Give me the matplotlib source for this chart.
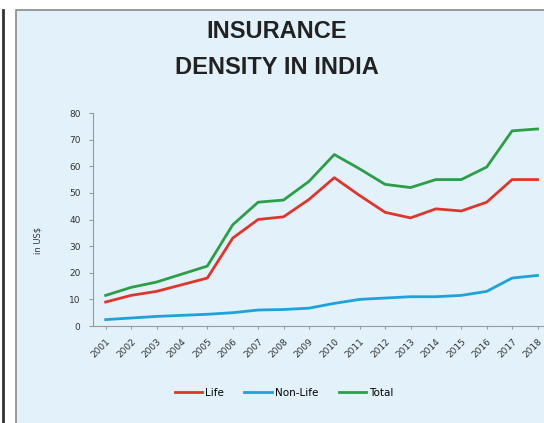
import matplotlib
matplotlib.use("Agg")
import matplotlib.pyplot as plt
from matplotlib.patches import Rectangle
from matplotlib.lines import Line2D

years = list(range(2001, 2019))
life = [9, 11.5, 13, 15.5, 18, 33, 40, 41, 47.5, 55.7, 49, 42.7, 40.6, 44, 43.2, 46.5, 55, 55]
non_life = [2.4, 3, 3.6, 4, 4.4, 5, 6, 6.2, 6.7, 8.5, 10, 10.5, 11, 11, 11.5, 13, 18, 19]
total = [11.5, 14.5, 16.5, 19.5, 22.5, 38, 46.5, 47.3, 54.3, 64.4, 59, 53.2, 52, 55, 55, 59.7, 73.3, 74]

bg = "#e3f2fa"

fig = plt.figure(figsize=(5.44, 4.23), dpi=100)
fig.patch.set_facecolor("white")

# panel frame (drawn behind the axes)
W, H = 544, 423
fig.patches.append(Rectangle((16 / W, -0.05), 1.1, 1 - 10 / H + 0.05,
                             transform=fig.transFigure, facecolor=bg,
                             edgecolor="#8a8a8a", linewidth=1.2, zorder=-2))
fig.lines.append(Line2D([3 / W, 3 / W], [0, 1 - 10 / H],
                        transform=fig.transFigure, color="#333333", lw=2,
                        zorder=-2))

ax = fig.add_axes([93 / W, 1 - 326 / H, (18 * 25.4) / W, (326 - 113) / H])
ax.set_zorder(2)
ax.set_facecolor(bg)

ax.plot(years, life, color="#e0352b", lw=2, label="Life")
ax.plot(years, non_life, color="#1da3d9", lw=2, label="Non-Life")
ax.plot(years, total, color="#2b9e47", lw=2, label="Total")

ax.set_xlim(2000.5, 2018.5)
ax.set_ylim(0, 80)
ax.set_yticks(range(0, 81, 10))
ax.set_xticks(years)
ax.set_xticklabels([str(y) for y in years], rotation=45, ha="right",
                   rotation_mode="anchor", fontsize=6.5, color="#333333")
ax.tick_params(axis="y", labelsize=6.5, colors="#333333", length=3,
               color="#999999", pad=6)
ax.tick_params(axis="x", length=2, color="#999999", pad=6)
for s in ["top", "right"]:
    ax.spines[s].set_visible(False)
for s in ["left", "bottom"]:
    ax.spines[s].set_color("#999999")

fig.text(38 / W, 1 - 240 / H, "in US$", rotation=90, fontsize=6,
         color="#333333", ha="center", va="center")

fig.text(277 / W, 1 - 32 / H, "INSURANCE", fontsize=17, fontweight="bold",
         family="Liberation Sans", ha="center", va="center", color="#222222")
fig.text(277 / W, 1 - 68 / H, "DENSITY IN INDIA", fontsize=17, fontweight="bold",
         family="Liberation Sans", ha="center", va="center", color="#222222")

fig.legend(loc="center", bbox_to_anchor=(284 / W, 1 - 393 / H), ncol=3,
           frameon=False, fontsize=7.5, handlelength=2.6, columnspacing=2,
           handletextpad=0.3)

fig.savefig("out.png", dpi=100, facecolor=fig.get_facecolor())
